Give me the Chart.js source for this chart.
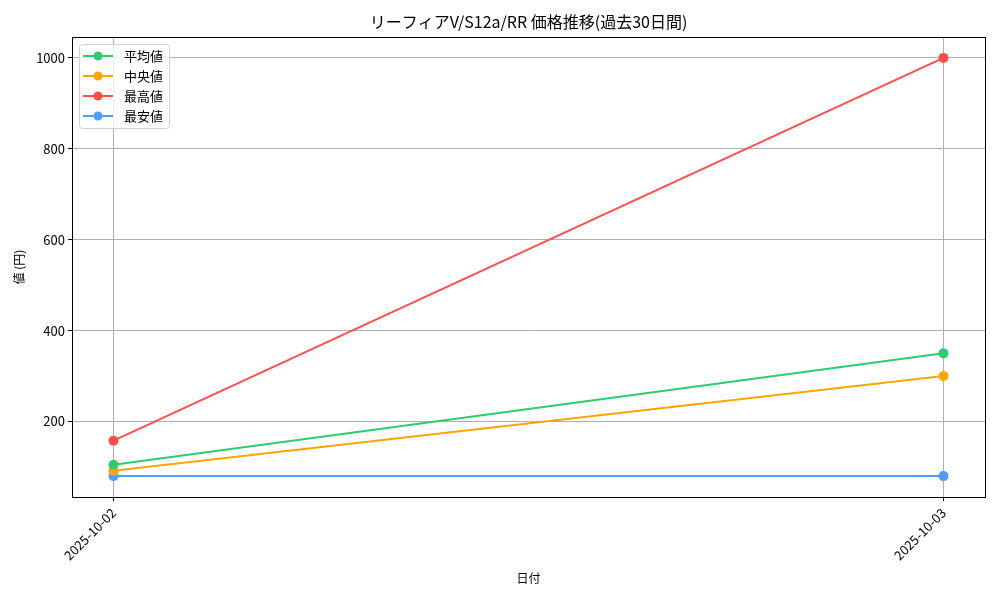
<!DOCTYPE html>
<html>
<head>
<meta charset="utf-8">
<script src="https://cdn.jsdelivr.net/npm/chart.js@4/dist/chart.umd.min.js"></script>
<style>
  html, body { margin: 0; padding: 0; background: #fff; }
  #wrap { width: 1000px; height: 600px; }
</style>
</head>
<body>
<div id="wrap"><canvas id="priceChart" width="1000" height="600"></canvas></div>
<script>
const FONT = '"Noto Sans CJK JP", "DejaVu Sans", sans-serif';

const dates = ['2025-10-02', '2025-10-03'];
const avgPrices = [105, 350];
const medianPrices = [92, 300];
const maxPrices = [158, 1000];
const minPrices = [80, 80];
const yTicks = [200, 400, 600, 800, 1000];

const seriesNames = ['平均値', '中央値', '最高値', '最安値'];
const seriesColors = ['#2ecc71', '#ffa500', '#ff4d4d', '#4d9fff'];
const seriesValues = [avgPrices, medianPrices, maxPrices, minPrices];

function toPoints(values) {
    return values.map((v, i) => ({ x: i, y: v }));
}

// matplotlib style frame around plot area
const framePlugin = {
    id: 'frame',
    afterDraw(chart) {
        const a = chart.chartArea;
        const ctx = chart.ctx;
        ctx.save();
        ctx.strokeStyle = '#000';
        ctx.lineWidth = 1;
        ctx.strokeRect(Math.round(a.left) + 0.5, Math.round(a.top) + 0.5,
            Math.round(a.right - a.left), Math.round(a.bottom - a.top));
        ctx.restore();
    }
};

const titlePlugin = {
    id: 'plotTitle',
    afterDraw(chart) {
        const a = chart.chartArea;
        const ctx = chart.ctx;
        ctx.save();
        ctx.fillStyle = '#000';
        ctx.font = '16px ' + FONT;
        ctx.textAlign = 'center';
        ctx.textBaseline = 'middle';
        ctx.fillText('リーフィアV/S12a/RR 価格推移(過去30日間)', (a.left + a.right) / 2, 22);
        ctx.restore();
    }
};

// legend box inside the upper left of the plot
const legendPlugin = {
    id: 'boxLegend',
    afterDraw(chart) {
        const a = chart.chartArea;
        const ctx = chart.ctx;
        const x0 = a.left + 7, y0 = a.top + 7;
        const w = 90, h = 84;
        ctx.save();
        ctx.fillStyle = 'rgba(255,255,255,0.8)';
        ctx.strokeStyle = '#d0d0d0';
        ctx.lineWidth = 1;
        ctx.beginPath();
        ctx.roundRect(x0 + 0.5, y0 + 0.5, w, h, 3);
        ctx.fill();
        ctx.stroke();
        ctx.font = '13px ' + FONT;
        ctx.textBaseline = 'middle';
        seriesNames.forEach((name, i) => {
            const y = y0 + 12 + i * 20;
            ctx.strokeStyle = seriesColors[i];
            ctx.lineWidth = 2;
            ctx.beginPath();
            ctx.moveTo(x0 + 4, y);
            ctx.lineTo(x0 + 34, y);
            ctx.stroke();
            ctx.fillStyle = seriesColors[i];
            ctx.beginPath();
            ctx.arc(x0 + 19, y, 4.5, 0, Math.PI * 2);
            ctx.fill();
            ctx.fillStyle = '#000';
            ctx.fillText(name, x0 + 45, y);
        });
        ctx.restore();
    }
};

function createPriceChart() {
    const ctx = document.getElementById('priceChart').getContext('2d');
    new Chart(ctx, {
        type: 'line',
        data: {
            datasets: seriesNames.map((name, i) => ({
                label: name,
                data: toPoints(seriesValues[i]),
                borderColor: seriesColors[i],
                backgroundColor: seriesColors[i],
                borderWidth: 2,
                pointRadius: 5,
                pointHoverRadius: 5,
                pointBorderWidth: 0,
                tension: 0
            }))
        },
        options: {
            responsive: false,
            animation: false,
            events: [],
            layout: { padding: { top: 37, right: 15, left: 0, bottom: 0 } },
            plugins: {
                legend: { display: false },
                title: { display: false },
                tooltip: { enabled: false }
            },
            scales: {
                x: {
                    type: 'linear',
                    min: -0.05,
                    max: 1.05,
                    afterBuildTicks(scale) {
                        scale.ticks = dates.map((d, i) => ({ value: i }));
                    },
                    afterFit(scale) { scale.height = 103; },
                    grid: { color: '#b0b0b0', tickColor: '#000', tickLength: 4 },
                    border: { display: false },
                    ticks: {
                        color: '#000',
                        font: { family: FONT, size: 13 },
                        minRotation: 45,
                        maxRotation: 45,
                        padding: 4,
                        callback: (v) => dates[v]
                    },
                    title: {
                        display: true,
                        text: '日付',
                        color: '#000',
                        font: { family: FONT, size: 12 },
                        padding: { top: 0, bottom: 14 }
                    }
                },
                y: {
                    min: 34,
                    max: 1046,
                    afterBuildTicks(scale) {
                        scale.ticks = yTicks.map(v => ({ value: v }));
                    },
                    afterFit(scale) { scale.width = 72; },
                    grid: { color: '#b0b0b0', tickColor: '#000', tickLength: 4 },
                    border: { display: false },
                    ticks: {
                        color: '#000',
                        font: { family: FONT, size: 13 },
                        padding: 3,
                        callback: (v) => String(v)
                    },
                    title: {
                        display: true,
                        text: '値 (円)',
                        color: '#000',
                        font: { family: FONT, size: 12 },
                        padding: { top: 12, bottom: 0 }
                    }
                }
            }
        },
        plugins: [framePlugin, titlePlugin, legendPlugin]
    });
}

createPriceChart();
</script>
</body>
</html>
